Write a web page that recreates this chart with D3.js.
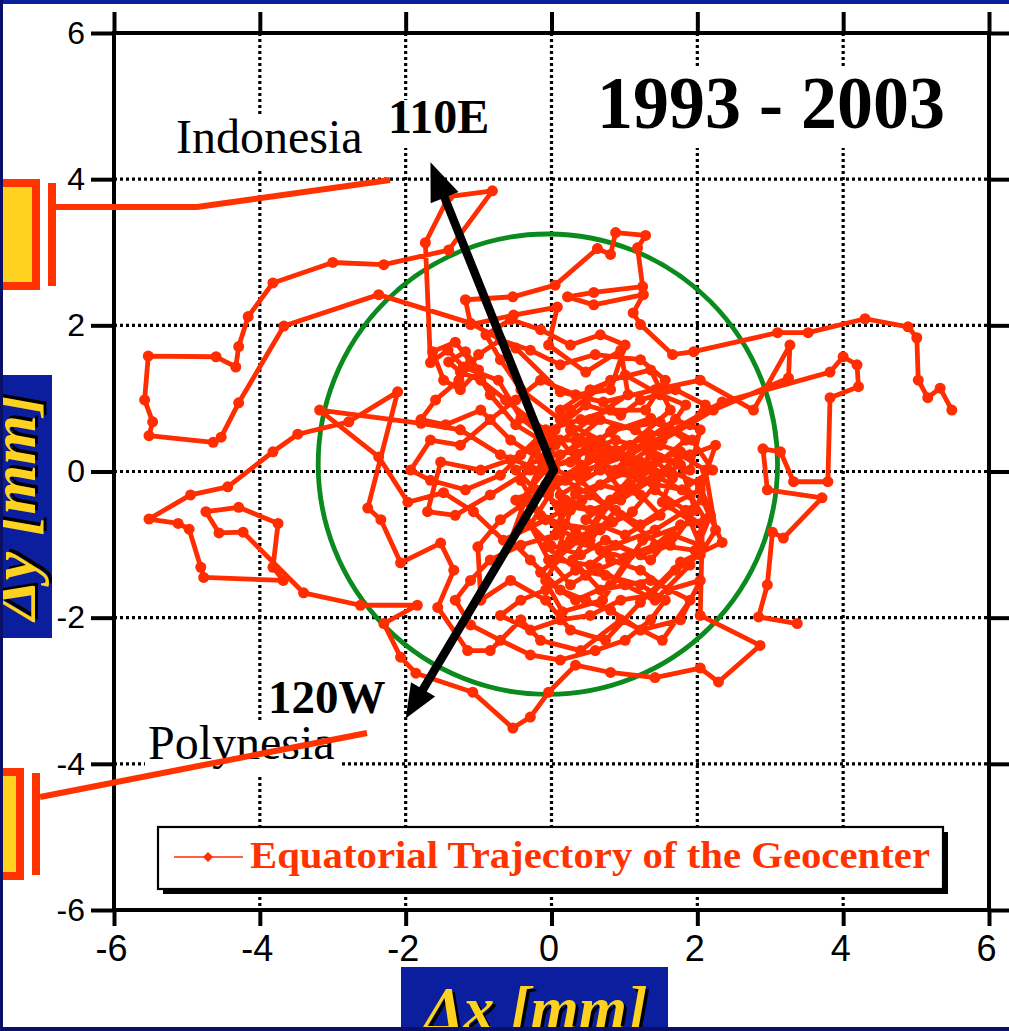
<!DOCTYPE html>
<html>
<head>
<meta charset="utf-8">
<script src="https://cdn.jsdelivr.net/npm/d3@7"></script>
<style>
  html, body { margin: 0; padding: 0; background: #fff; }
  svg { display: block; }
</style>
</head>
<body>
<svg id="chart" width="1009" height="1031"></svg>
<script>
// Geocenter equatorial displacement, 1993-2003 (mm)
const dx = [5.49,5.33,5.16,5.03,5.01,4.89,4.30,3.52,3.10,1.95,1.66,1.22,1.12,1.26,0.58,0.22,0.58,1.25,1.18,1.29,
  0.88,0.81,0.63,0.05,-0.53,-1.18,-1.11,-0.52,0.08,-0.04,0.47,0.95,1.05,0.53,0.05,-0.42,-0.73,-1.21,-1.42,-1.66,
  -1.73,-1.41,-0.81,-1.41,-2.30,-3.00,-3.82,-4.16,-4.29,-4.33,-4.60,-5.53,-5.58,-5.47,-5.52,-4.64,-4.53,-4.29,-3.67,-2.37,
  -1.11,-0.49,0.12,0.71,1.42,2.04,2.77,3.27,3.25,2.22,1.52,0.97,0.42,-0.08,-0.66,-1.07,-1.48,-1.97,-2.37,-3.18,
  -1.79,-1.25,-0.70,-0.15,0.33,0.81,1.36,1.84,1.22,0.67,0.12,0.84,0.26,1.01,0.47,-0.08,0.33,1.11,1.77,1.52,
  1.93,1.25,0.70,0.15,-0.15,0.53,0.95,0.40,-0.08,-0.42,0.12,0.67,1.42,2.07,2.34,1.77,1.22,0.74,0.26,-0.08,
  -0.56,-0.97,-1.01,-0.70,-0.15,0.47,1.08,1.63,1.36,0.81,0.26,-0.08,-0.56,-0.97,-1.52,-1.70,-1.32,-0.84,-0.29,0.26,
  0.84,1.49,1.93,2.21,1.79,1.25,0.67,0.29,0.67,1.36,1.90,1.52,0.95,0.40,-0.15,-0.42,-0.84,-1.15,-1.56,-1.34,
  -1.52,-2.07,-2.34,-2.52,-2.11,-2.78,-3.48,-3.82,-4.44,-4.95,-5.52,-5.12,-4.97,-4.81,-4.77,-3.68,-3.82,-3.75,-4.29,-4.74,
  -4.56,-4.23,-3.40,-2.62,-1.84,-2.30,-2.07,-1.86,-1.08,-0.53,-0.29,-0.04,0.33,0.81,1.42,2.04,2.29,2.86,2.04,2.07,
  1.97,1.49,0.95,0.53,0.19,0.67,1.22,1.66,
  1.36,0.81,0.47,1.01,1.49,1.22,0.67,0.26,0.05,0.53,0.88,1.36,1.66,2.04,1.84,1.42,0.95,0.53,0.12,-0.04,
  0.19,0.67,1.11,1.60,2.04,2.18,1.90,1.42,1.01,0.64,0.26,-0.04,-0.29,0.10,0.53,0.88,1.29,1.70,2.04,1.90,
  1.49,1.08,0.74,0.40,0.05,-0.22,-0.42,-0.15,0.33,0.81,1.22,1.60,2.04,1.77,1.22,0.81,0.47,0.12,-0.29,-0.56,
  -0.36,0.05,0.47,0.95,1.22,1.70,2.11,1.90,1.36,0.88,0.40,0.12,-0.29,-0.63,-0.97,-1.25,-1.41,-1.18,-1.00,-1.25,
  -1.48,-1.63,-1.32,-1.11,-0.84,-0.49,-0.15,0.33,0.67,1.15,1.49,1.90,2.25,2.04,1.63,1.22,0.88,0.53,0.19,-0.08,
  0.33,0.81,1.08,1.42,1.77,2.11,1.90,1.42,1.01,0.60,0.26,0.12,0.53,1.01,1.49,1.84,
  1.22,0.67,0.12,-0.42,-0.70,-0.90,-0.56,-0.15,0.26,0.67,1.01,0.81,0.33,-0.15,-0.49,-0.84,-1.25,-1.66,-1.93,-1.66,
  -1.18,-0.70,-0.42,-0.08,0.40,0.81,1.29,1.56,1.22,0.60,0.12,-0.29,-0.70,-1.00,-1.27,-1.59,-1.79,-1.45,-0.97,-0.56,
  -0.15,0.19,0.05,-0.42,-0.84,-1.11,-1.32,-1.11,-0.70,-0.29,0.12,0.60,1.01,1.36,1.56,1.22,0.74,0.33,-0.08,-0.42,
  -0.70,-0.29,0.12,0.53,0.95,1.36,1.70,2.04,2.25,2.11,1.77,1.36,0.95,0.53,0.12,-0.22,-0.49,-0.01,0.47,0.88,
  1.36,1.77,1.97,1.63,1.22,0.74,0.40,-0.01,-0.36,-0.49,-0.08,0.26,0.67,1.08,
  2.34,3.82,4.00,4.19,4.21,3.82,3.79,3.32,3.14,2.90,2.96,3.71,
  3.18,3.03,2.96,2.84,3.37];
const dy = [0.84,1.14,1.01,1.25,1.83,1.98,2.09,1.90,1.90,1.64,1.60,2.01,2.17,2.42,2.28,2.39,2.45,2.53,3.06,3.23,
  3.27,2.97,3.05,2.55,2.39,2.35,2.01,2.14,2.25,1.73,1.36,1.66,1.05,0.71,0.36,0.73,1.25,1.43,1.66,1.49,
  3.13,3.76,3.84,3.03,2.83,2.86,2.58,2.12,1.71,1.43,1.57,1.58,0.98,0.68,0.49,0.40,0.47,0.94,1.99,2.42,
  2.03,1.69,1.09,0.95,1.12,1.25,0.84,1.73,1.28,0.84,0.43,0.05,-0.39,-0.66,-0.94,-0.55,-0.29,-0.42,0.20,0.84,
  0.66,0.57,0.23,0.02,0.18,0.54,0.73,0.43,-0.09,0.02,-0.32,-0.69,-0.94,-1.18,-1.42,-1.03,-0.31,0.02,0.27,-0.42,
  -0.69,-0.94,-1.76,-1.92,-1.38,-0.80,-0.25,0.43,0.02,-0.39,-0.80,-1.08,-0.80,-0.39,-0.97,-1.24,-1.79,-2.31,-2.17,-1.76,
  -1.49,-1.76,-1.03,-0.66,-0.28,-0.01,0.36,0.84,1.39,1.25,0.84,0.43,0.16,0.02,0.13,-0.55,-0.60,-0.32,0.02,0.13,
  0.57,0.68,0.43,0.02,-0.25,-0.14,-0.55,-1.21,-1.62,-1.49,-1.76,-2.31,-2.03,-2.45,-2.31,-2.03,-2.45,-2.45,-1.86,-1.35,
  -0.98,-1.25,-0.66,-0.50,1.09,0.68,0.51,0.27,-0.21,-0.32,-0.65,-0.71,-0.79,-1.31,-1.45,-1.49,-1.31,-0.71,-0.49,-0.55,
  -0.84,-0.83,-1.66,-1.83,-1.83,-2.08,-2.54,-2.76,-3.02,-3.51,-3.36,-3.02,-2.65,-2.75,-2.82,-2.69,-2.88,-2.38,-1.97,-0.71,
  -1.08,-1.01,-0.60,-0.32,-0.12,0.23,0.13,-0.09,
  0.23,-0.39,-0.66,-0.87,-0.60,-0.32,-0.18,-0.53,-1.21,-1.28,-1.01,-1.21,-0.87,-1.01,-0.53,-0.25,0.23,0.43,0.23,-0.32,
  -0.73,-0.80,-0.55,0.02,-0.18,-0.60,-1.28,-1.76,-1.55,-1.32,-1.55,-1.21,-0.73,-0.12,0.18,0.02,0.43,0.71,0.57,0.02,
  0.18,-0.18,-0.46,-0.12,0.02,0.29,-0.12,-0.60,-0.80,-1.21,-1.35,-1.62,-1.49,-2.03,-2.17,-1.90,-1.76,-1.62,-1.21,-0.94,
  -0.39,0.57,0.91,0.77,0.98,1.12,0.91,0.64,0.50,0.29,0.09,0.43,0.71,0.98,1.25,1.36,1.50,1.64,1.39,1.12,
  1.25,1.64,1.77,1.50,1.05,0.64,0.43,0.43,0.71,0.57,0.36,0.23,0.36,-0.25,-0.46,-0.73,-0.53,-0.94,-1.01,-1.49,
  -1.76,-1.55,-1.14,-1.01,-0.73,-0.66,-0.32,-0.05,0.16,0.32,0.57,0.84,1.12,1.32,1.05,0.91,
  0.02,0.43,0.71,1.12,1.53,1.87,2.08,1.94,1.73,1.87,1.73,1.12,1.05,1.25,0.98,0.71,0.36,0.43,0.02,-0.12,
  -0.25,-0.05,0.23,0.57,0.71,0.84,0.84,1.25,1.53,1.60,1.46,1.66,1.80,1.60,1.25,0.98,0.71,0.64,0.84,0.43,
  0.16,-0.39,-0.87,-1.01,-1.21,-1.49,-1.76,-2.10,-2.31,-2.51,-2.58,-2.45,-2.31,-2.03,-1.76,-1.55,-1.42,-1.35,-1.62,-1.76,
  -1.97,-2.17,-2.03,-1.97,-1.76,-1.69,-1.35,-1.14,-0.80,0.02,0.23,-0.12,-0.39,-0.53,-0.46,-0.25,0.02,0.23,0.29,0.43,
  0.29,0.09,-0.53,-1.01,-1.14,-0.94,-1.14,-1.01,-0.66,-0.39,-0.18,-0.05,0.09,0.23,
  0.95,1.36,1.57,1.46,1.16,1.01,-0.14,-0.14,0.27,0.31,-0.25,-0.36,
  -0.91,-0.83,-1.55,-1.99,-2.08];

const tickValues = [-6, -4, -2, 0, 2, 4, 6];
const gridValues = [-4, -2, 0, 2, 4];

// RMS ring of the motion
const ringCenter = [-0.05, 0.10];
const ringRadius = 3.15;

// direction arrows: shared origin and tips
const arrowOrigin = [0.03, 0.02];
const arrowTips = [[-1.66, 4.23], [-2.00, -3.38]];
const arrowNames = ["110E", "120W"];

const title = "1993 - 2003";
const legendLabel = "Equatorial Trajectory of the Geocenter";

const RED = "#ff2d00";
const ORANGE = "#ff3300";
const YELLOW = "#ffd21f";
const BLUE = "#0b1f9e";
const NAVY = "#0a1068";
const GREEN = "#0b8a1e";

const svg = d3.select("#chart");
const x = d3.scaleLinear().domain([-6, 6]).range([114, 989]);
const y = d3.scaleLinear().domain([-6, 6]).range([910, 33]);

svg.append("rect").attr("width", 1009).attr("height", 1031).attr("fill", "#fff");

// dotted grid
const grid = svg.append("g").attr("stroke", "#000").attr("stroke-width", 3.2)
  .attr("stroke-dasharray", "3,3");
grid.selectAll("line.v").data(gridValues).join("line").attr("class", "v")
  .attr("x1", d => x(d)).attr("x2", d => x(d)).attr("y1", y(6)).attr("y2", y(-6));
grid.selectAll("line.h").data(gridValues).join("line").attr("class", "h")
  .attr("y1", d => y(d)).attr("y2", d => y(d)).attr("x1", x(-6)).attr("x2", x(6));

// white backing for labels inside the plot
const backs = [[170, 117, 200, 51], [385, 100, 112, 48], [590, 68, 362, 80], [145, 720, 195, 57]];
svg.append("g").selectAll("rect").data(backs).join("rect")
  .attr("x", d => d[0]).attr("y", d => d[1]).attr("width", d => d[2]).attr("height", d => d[3])
  .attr("fill", "#fff");

// ring
svg.append("ellipse")
  .attr("cx", x(ringCenter[0])).attr("cy", y(ringCenter[1]))
  .attr("rx", x(ringRadius) - x(0)).attr("ry", y(0) - y(ringRadius))
  .attr("fill", "none").attr("stroke", GREEN).attr("stroke-width", 4.8);

// trajectory
const pts = dx.map((v, i) => [v, dy[i]]);
svg.append("path").datum(pts)
  .attr("d", d3.line().x(d => x(d[0])).y(d => y(d[1])))
  .attr("fill", "none").attr("stroke", RED).attr("stroke-width", 4.8)
  .attr("stroke-linejoin", "round");
svg.append("g").selectAll("circle").data(pts).join("circle")
  .attr("cx", d => x(d[0])).attr("cy", d => y(d[1])).attr("r", 5.5).attr("fill", RED);

// arrows
const ox = x(arrowOrigin[0]), oy = y(arrowOrigin[1]);
const arrowG = svg.append("g");
arrowTips.forEach((t, i) => {
  const tx = x(t[0]), ty = y(t[1]);
  const len = Math.hypot(tx - ox, ty - oy);
  const ux = (tx - ox) / len, uy = (ty - oy) / len;
  const headLen = i === 0 ? 38 : 34, half = i === 0 ? 15 : 14;
  const bx = tx - ux * headLen, by = ty - uy * headLen;
  arrowG.append("line").attr("x1", ox).attr("y1", oy).attr("x2", bx + ux * 2).attr("y2", by + uy * 2)
    .attr("stroke", "#000").attr("stroke-width", 8.5).attr("stroke-linecap", "round");
  arrowG.append("path")
    .attr("d", `M${tx},${ty}L${bx - uy * half},${by + ux * half}L${bx + uy * half},${by - ux * half}Z`)
    .attr("fill", "#000");
});

// labels
const serif = "'Liberation Serif', 'Times New Roman', serif";
svg.append("text").attr("x", 176).attr("y", 153).attr("font-family", serif).attr("font-size", 48)
  .text("Indonesia");
svg.append("text").attr("x", 148).attr("y", 759).attr("font-family", serif).attr("font-size", 48)
  .text("Polynesia");
svg.append("text").attr("x", 388).attr("y", 133).attr("font-family", serif).attr("font-size", 48)
  .attr("font-weight", "bold").text(arrowNames[0]);
svg.append("text").attr("x", 268).attr("y", 713).attr("font-family", serif).attr("font-size", 47)
  .attr("font-weight", "bold").text(arrowNames[1]);
svg.append("text").attr("x", 597).attr("y", 128).attr("font-family", serif).attr("font-size", 73)
  .attr("font-weight", "bold").attr("textLength", 348).attr("lengthAdjust", "spacingAndGlyphs").text(title);

// legend
const lg = svg.append("g");
lg.append("rect").attr("x", 163).attr("y", 832).attr("width", 785).attr("height", 62).attr("fill", "#000");
lg.append("rect").attr("x", 158).attr("y", 827).attr("width", 785).attr("height", 62)
  .attr("fill", "#fff").attr("stroke", "#000").attr("stroke-width", 2.2);
lg.append("line").attr("x1", 174).attr("x2", 243).attr("y1", 857).attr("y2", 857)
  .attr("stroke", RED).attr("stroke-width", 1.6);
lg.append("path").attr("d", "M208,852L213,857L208,862L203,857Z").attr("fill", RED);
lg.append("text").attr("x", 250).attr("y", 868).attr("font-family", serif).attr("font-size", 38)
  .attr("font-weight", "bold").attr("fill", ORANGE)
  .attr("textLength", 680).attr("lengthAdjust", "spacingAndGlyphs").text(legendLabel);

// frame and ticks
const frame = svg.append("g");
frame.append("rect").attr("x", x(-6)).attr("y", y(6)).attr("width", x(6) - x(-6)).attr("height", y(-6) - y(6))
  .attr("fill", "none").attr("stroke", "#000").attr("stroke-width", 4);
const sans = "'Liberation Sans', Arial, sans-serif";
const fmt = d => String(d);
const axB = svg.append("g").attr("transform", `translate(0,${y(-6)})`)
  .call(d3.axisBottom(x).tickValues(tickValues).tickSize(16).tickSizeOuter(0).tickPadding(10).tickFormat(fmt));
const axT = svg.append("g").attr("transform", `translate(0,${y(6)})`)
  .call(d3.axisTop(x).tickValues(tickValues).tickSize(21).tickSizeOuter(0).tickFormat(""));
const axL = svg.append("g").attr("transform", `translate(${x(-6)},0)`)
  .call(d3.axisLeft(y).tickValues(tickValues).tickSize(23).tickSizeOuter(0).tickPadding(6).tickFormat(fmt));
const axR = svg.append("g").attr("transform", `translate(${x(6)},0)`)
  .call(d3.axisRight(y).tickValues(tickValues).tickSize(22).tickSizeOuter(0).tickFormat(""));
[axB, axT, axL, axR].forEach(a => {
  a.select(".domain").remove();
  a.selectAll(".tick line").attr("stroke", "#000").attr("stroke-width", 4);
});
axB.selectAll(".tick text").attr("font-family", sans).attr("font-size", 36).attr("fill", "#000")
  .attr("dx", -3).attr("dy", "0.7em");
axL.selectAll(".tick text").attr("font-family", sans).attr("font-size", 32).attr("fill", "#000");

// leader lines and callout boxes
const lead = svg.append("g").attr("stroke", ORANGE).attr("fill", "none");
lead.append("polyline").attr("points", "52,207 197,207 390,180").attr("stroke-width", 6);
lead.append("line").attr("x1", 52).attr("x2", 52).attr("y1", 183).attr("y2", 286).attr("stroke-width", 8);
lead.append("rect").attr("x", -10).attr("y", 183).attr("width", 46).attr("height", 103)
  .attr("fill", YELLOW).attr("stroke-width", 8);
lead.append("line").attr("x1", 40).attr("y1", 797).attr("x2", 367).attr("y2", 733).attr("stroke-width", 6);
lead.append("line").attr("x1", 36).attr("x2", 36).attr("y1", 773).attr("y2", 875).attr("stroke-width", 8);
lead.append("rect").attr("x", -10).attr("y", 772).attr("width", 30).attr("height", 104)
  .attr("fill", YELLOW).attr("stroke-width", 8);

// axis title boxes
svg.append("rect").attr("x", 0).attr("y", 375).attr("width", 52).attr("height", 263).attr("fill", BLUE);
svg.append("rect").attr("x", 401).attr("y", 967).attr("width", 267).attr("height", 64).attr("fill", BLUE);

function shadowText(g, txt, size) {
  g.append("text").attr("x", 3).attr("y", 3).attr("fill", "#000").text(txt);
  g.append("text").attr("x", 0).attr("y", 0).attr("fill", YELLOW).text(txt);
  g.selectAll("text").attr("font-family", serif).attr("font-size", size).attr("font-style", "italic")
    .attr("font-weight", "bold").attr("text-anchor", "middle");
}
shadowText(svg.append("g").attr("transform", "translate(536,1029)"), "Δx [mm]", 62);
shadowText(svg.append("g").attr("transform", "translate(35,507) rotate(-90)"), "Δy [mm]", 64);

// outer border
svg.append("rect").attr("x", 0).attr("y", 0).attr("width", 1009).attr("height", 4).attr("fill", BLUE);
svg.append("rect").attr("x", 0).attr("y", 0).attr("width", 3).attr("height", 1031).attr("fill", NAVY);
svg.append("rect").attr("x", 0).attr("y", 1027).attr("width", 1009).attr("height", 4).attr("fill", NAVY);
</script>
</body>
</html>
